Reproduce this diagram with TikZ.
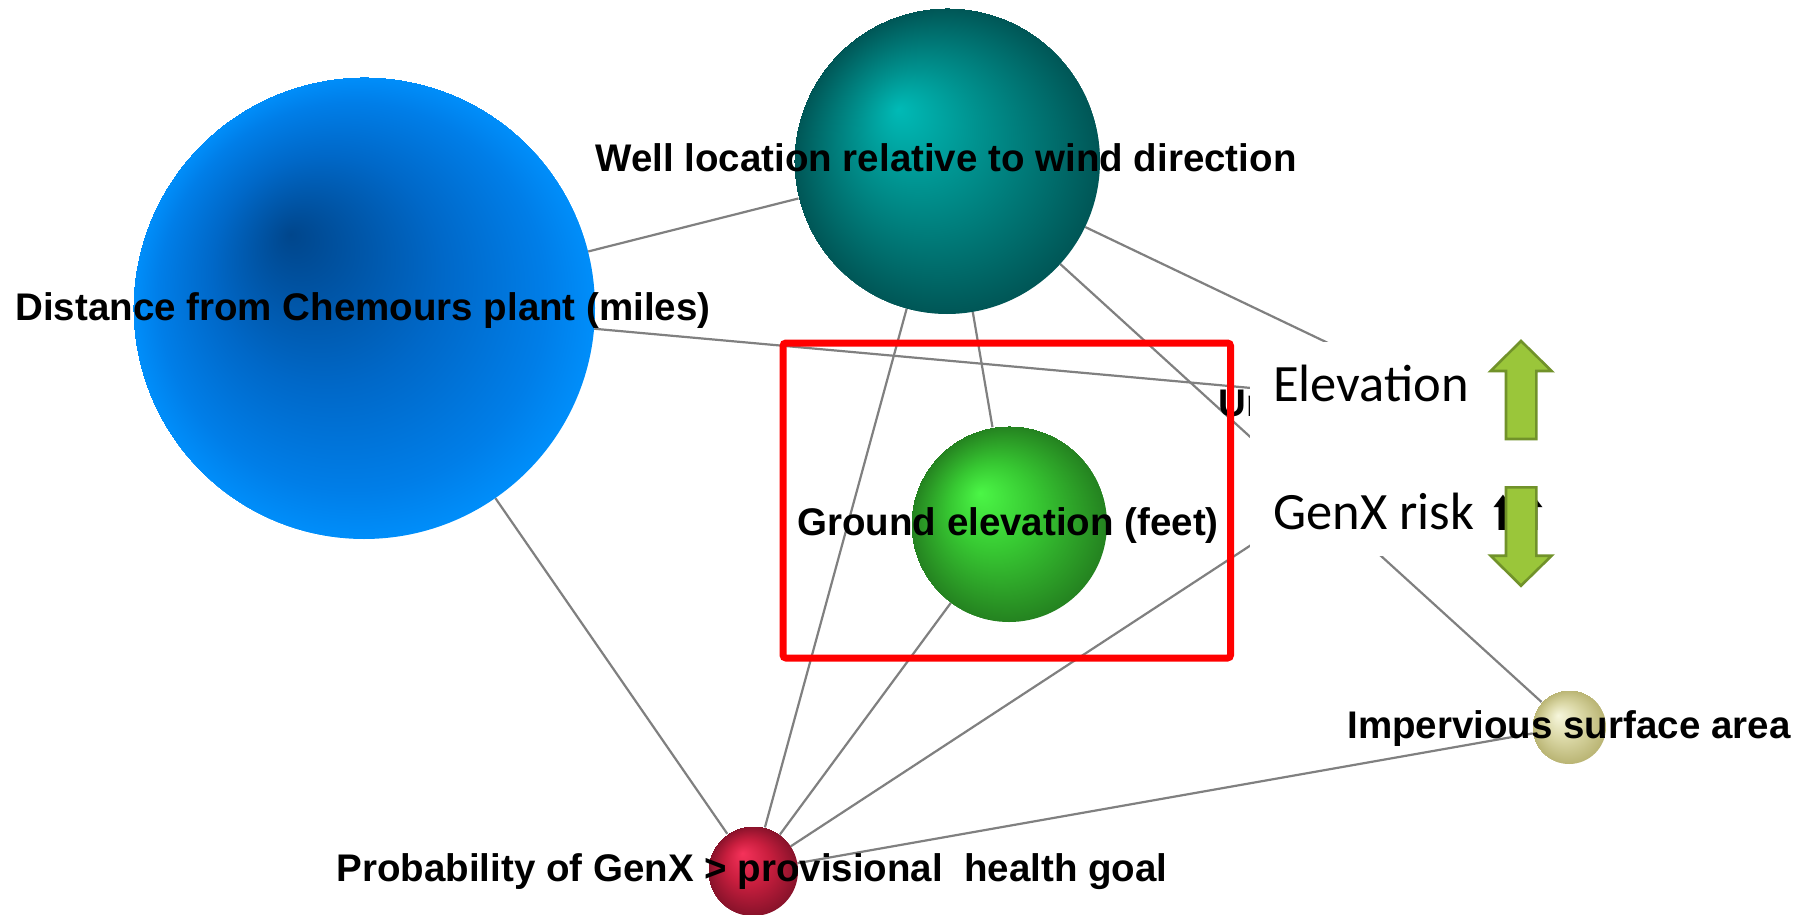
\documentclass[tikz,border=0pt]{standalone}
\usepackage{fontspec}
\setmainfont{Liberation Sans}
\newfontfamily\calib{Carlito}
\newfontfamily\dejavu{DejaVu Sans}
\definecolor{edgegray}{RGB}{128,128,128}
\definecolor{boxred}{RGB}{255,0,0}
\definecolor{arrfill}{RGB}{154,198,58}
\definecolor{arrline}{RGB}{113,146,42}
\definecolor{bluea}{RGB}{0,70,140}
\definecolor{blueb}{RGB}{0,104,200}
\definecolor{bluec}{RGB}{0,126,232}
\definecolor{blued}{RGB}{0,142,250}
\definecolor{teala}{RGB}{0,186,182}
\definecolor{tealb}{RGB}{0,145,142}
\definecolor{tealc}{RGB}{0,106,105}
\definecolor{teald}{RGB}{0,86,86}
\definecolor{greena}{RGB}{75,246,70}
\definecolor{greenb}{RGB}{55,200,50}
\definecolor{greenc}{RGB}{42,150,37}
\definecolor{greend}{RGB}{36,130,32}
\definecolor{reda}{RGB}{245,50,90}
\definecolor{redb}{RGB}{200,30,62}
\definecolor{redc}{RGB}{135,18,42}
\definecolor{khakia}{RGB}{246,246,220}
\definecolor{khakib}{RGB}{218,215,165}
\definecolor{khakic}{RGB}{185,180,115}
% the node's radius corresponds to 25bp of a shading
\pgfdeclareradialshading{blueball}{\pgfpoint{-8bp}{8bp}}{color(0bp)=(bluea); color(12.5bp)=(blueb); color(21bp)=(bluec); color(25bp)=(blued)}
\pgfdeclareradialshading{tealball}{\pgfpoint{-8bp}{8.5bp}}{color(0bp)=(teala); color(10bp)=(tealb); color(20bp)=(tealc); color(25bp)=(teald)}
\pgfdeclareradialshading{greenball}{\pgfpoint{-7.5bp}{8bp}}{color(0bp)=(greena); color(11bp)=(greenb); color(21bp)=(greenc); color(25bp)=(greend)}
\pgfdeclareradialshading{redball}{\pgfpoint{-6bp}{10bp}}{color(0bp)=(reda); color(12.5bp)=(redb); color(25bp)=(redc)}
\pgfdeclareradialshading{khakiball}{\pgfpoint{-7.5bp}{8bp}}{color(0bp)=(khakia); color(12.5bp)=(khakib); color(25bp)=(khakic)}
\pgfdeclarelayer{bg}
\pgfsetlayers{bg,main}
\begin{document}
\begin{tikzpicture}[x=1pt,y=-1pt,
  ball/.style={circle, inner sep=0pt, draw=none},
  lbl/.style={font=\bfseries\fontsize{38.5}{40}\selectfont, inner sep=0pt, anchor=base},
  ovl/.style={font=\calib\fontsize{52.5}{60}\selectfont, inner sep=0pt, anchor=base west},
  edge/.style={draw=edgegray, line width=2.2pt},
  greenarrow/.style={fill=arrfill, draw=arrline, line width=2.6pt, line join=miter}]
\useasboundingbox (0,0) rectangle (1798,915);
% variable nodes
\node[ball, minimum size=462pt, shading=blueball] (dist) at (364,308) {};
\node[ball, minimum size=306pt, shading=tealball] (well) at (947,161) {};
\node[ball, minimum size=196pt, shading=greenball] (ground) at (1009,524) {};
\node[ball, minimum size=90pt, shading=redball] (prob) at (753,871) {};
\node[ball, minimum size=74pt, shading=khakiball] (imp) at (1569,727) {};
\coordinate (hid) at (1462,407);
% connectors
\begin{pgfonlayer}{bg}
\fill[white] (0,0) rectangle (1798,915);
\draw[edge] (dist) -- (well);
\draw[edge] (dist) -- (hid);
\draw[edge] (dist) -- (prob);
\draw[edge] (well) -- (ground);
\draw[edge] (well) -- (prob);
\draw[edge] (well) -- (hid);
\draw[edge] (well) -- (imp);
\draw[edge] (ground) -- (prob);
\draw[edge] (prob) -- (hid);
\draw[edge] (prob) -- (imp);
\end{pgfonlayer}
% labels
\node[lbl] (distl) at (363,320) {Distance from Chemours plant (miles)};
\node[lbl] (welll) at (946,171.5) {Well location relative to wind direction};
\node[lbl] (groundl) at (1008,535.5) {Ground elevation (feet)};
\node[lbl] (impl) at (1569,738.3) {Impervious surface area};
\node[lbl] (probl) at (752,881.7) {Probability of GenX > provisional\ \ health goal};
\node[lbl, anchor=base west] (hidl) at (1218,416.7) {Un};
% overlay picture
\fill[white] (1250,342) rectangle (1620,556);
\draw[boxred, line width=7pt, rounded corners=3pt] (783,343) rectangle (1230.5,658);
\node[ovl] (elev) at (1273,401.7) {Elevation};
\node[ovl] (risk) at (1273,529) {GenX risk};
\node[font=\dejavu\bfseries\fontsize{47}{50}\selectfont, inner sep=0pt, anchor=base west] (riskarr) at (1488,530) {\scalebox{0.76}[1]{⬆⬆}};
\draw[greenarrow] (1506,439) -- (1506,371) -- (1490.6,371) -- (1521,341) -- (1551.6,371) -- (1536.4,371) -- (1536.4,439) -- cycle;
\draw[greenarrow] (1506,487.3) -- (1536.4,487.3) -- (1536.4,555.7) -- (1551.6,555.7) -- (1521,585.7) -- (1490.6,555.7) -- (1506,555.7) -- cycle;
\end{tikzpicture}
\end{document}
